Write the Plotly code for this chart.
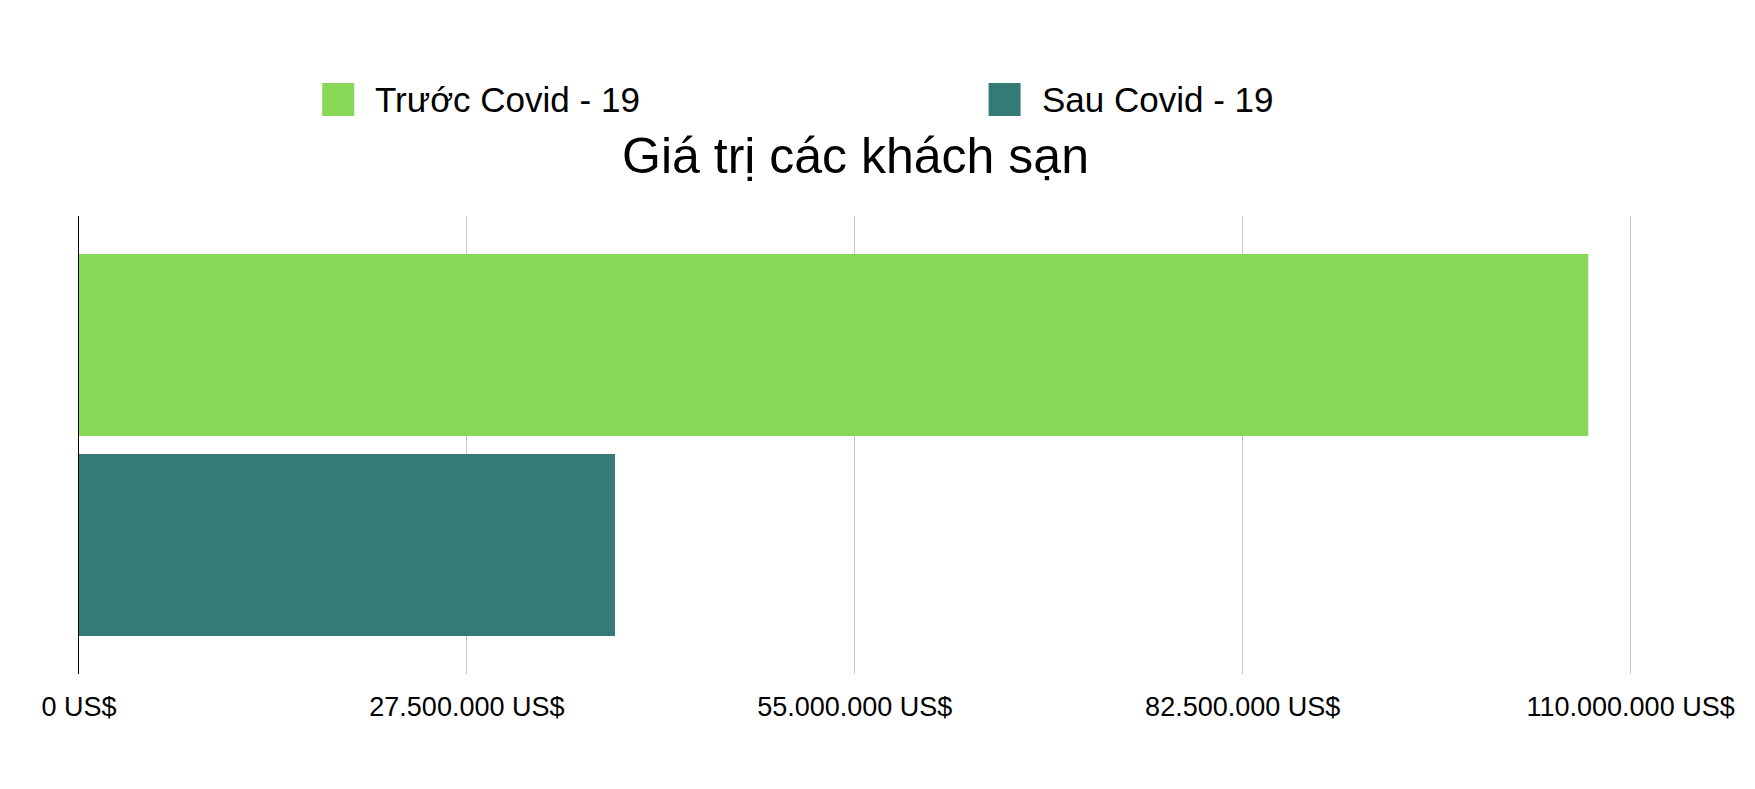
import plotly.graph_objects as go

categories = ["Khách sạn"]
series_names = ["Trước Covid - 19", "Sau Covid - 19"]
series_values = [107_000_000, 38_000_000]
series_colors = ["#86D856", "#367A77"]
tick_vals = [0, 27_500_000, 55_000_000, 82_500_000, 110_000_000]
tick_text = ["0 US$", "27.500.000 US$", "55.000.000 US$", "82.500.000 US$", "110.000.000 US$"]

font_family = "Liberation Sans, Arial, sans-serif"

fig = go.Figure()
for name, val, col in zip(series_names, series_values, series_colors):
    fig.add_trace(go.Bar(
        y=categories, x=[val], name=name, orientation="h",
        marker=dict(color=col, line=dict(width=0)),
        showlegend=False,
    ))

# legend drawn by hand so the swatches can be as big as in the original
legend_x = [0.1566, 0.5857]
for name, col, lx in zip(series_names, series_colors, legend_x):
    fig.add_shape(type="rect", xref="paper", yref="paper",
                  x0=lx, x1=lx + 0.0206, y0=1.2183, y1=1.2904,
                  fillcolor=col, line=dict(width=0))
    fig.add_annotation(text=name, xref="paper", yref="paper",
                       x=lx + 0.0328, y=1.2533, xanchor="left", yanchor="middle",
                       showarrow=False, font=dict(size=35, color="black"))

# page has an 8px body margin, so the figure is a bit smaller than the window
fig.update_layout(
    width=1747, height=781,
    margin=dict(l=71, r=123, t=208, b=115),
    paper_bgcolor="white", plot_bgcolor="white",
    font=dict(family=font_family, color="black"),
    barmode="group", bargap=0.1266, bargroupgap=0.09,
    title=dict(text="Giá trị các khách sạn", x=0.5, xref="paper", xanchor="center",
               y=1 - 147 / 781, yref="container", yanchor="middle",
               font=dict(size=50, color="black")),
    xaxis=dict(
        range=[0, 110_100_000], tickvals=tick_vals, ticktext=tick_text,
        showgrid=True, gridcolor="#c6c6c6", gridwidth=1,
        zeroline=False, showline=False, ticks="",
        ticklabelstandoff=14, tickfont=dict(size=27, color="black"),
    ),
    yaxis=dict(
        autorange="reversed", showticklabels=False, showgrid=False,
        zeroline=False, showline=True, linecolor="black", linewidth=1, ticks="",
    ),
)

fig.write_html("out.html")
